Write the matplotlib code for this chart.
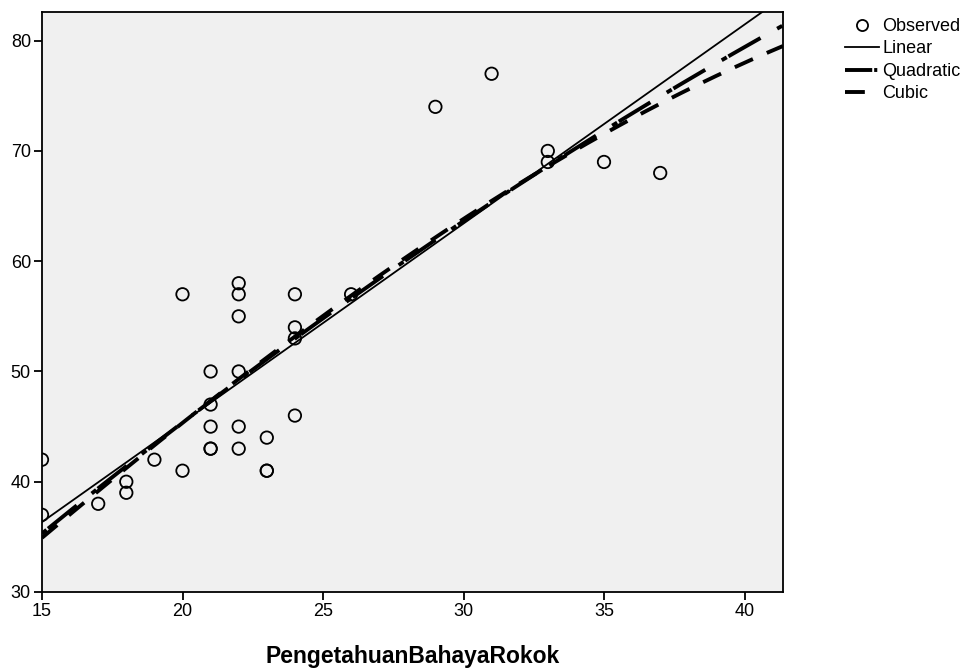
import numpy as np
import matplotlib
matplotlib.use("Agg")
import matplotlib.pyplot as plt
from matplotlib.lines import Line2D

plt.rcParams['font.family'] = ['Liberation Sans', 'DejaVu Sans']

# Observed points
pengetahuan = [15, 15, 17, 18, 18, 19, 20, 20, 21, 21, 21, 21, 21,
               22, 22, 22, 22, 22, 22, 23, 23, 23, 24, 24, 24, 24,
               26, 29, 31, 33, 33, 35, 37]
nilai = [42, 37, 38, 40, 39, 42, 57, 41, 50, 47, 45, 43, 43,
         58, 57, 55, 50, 45, 43, 44, 41, 41, 57, 54, 53, 46,
         57, 74, 77, 70, 69, 69, 68]

x_ticks = [15, 20, 25, 30, 35, 40]
y_ticks = [30, 40, 50, 60, 70, 80]

x = np.array(pengetahuan, dtype=float)
y = np.array(nilai, dtype=float)

fig = plt.figure(figsize=(9.69, 6.71), dpi=100)
ax = fig.add_axes([42 / 969, 79 / 671, 741 / 969, 580 / 671])
ax.set_facecolor('#f0f0f0')

ax.set_xlim(15, 41.37)
ax.set_ylim(30, 82.6)

xs = np.linspace(15, 41.37, 300)
lin = np.polyval(np.polyfit(x, y, 1), xs)
quad = np.polyval(np.polyfit(x, y, 2), xs)
# cubic: the x^2 term is dropped (tolerance), as SPSS does
A = np.column_stack([np.ones_like(x), x, x ** 3])
b = np.linalg.lstsq(A, y, rcond=None)[0]
cub = b[0] + b[1] * xs + b[2] * xs ** 3

q_dash = (1.5, 0.5, 9.5, 4.9)
c_dash = (5.1, 3.9)
ax.plot(xs, lin, color='black', lw=1.3)
ax.plot(xs, quad, color='black', lw=2.8, dashes=q_dash)
ax.plot(xs, cub, color='black', lw=2.8, dashes=c_dash)
ax.scatter(x, y, s=80, facecolors='none', edgecolors='black', linewidths=1.3,
           zorder=3)

ax.set_xticks(x_ticks)
ax.set_yticks(y_ticks)
ax.tick_params(direction='out', length=6, width=1.3, labelsize=13, pad=2)
for sp in ax.spines.values():
    sp.set_linewidth(1.3)

ax.set_xlabel('PengetahuanBahayaRokok', fontsize=16.5, fontweight='bold', labelpad=18)

handles = [
    Line2D([], [], ls='none', marker='o', mfc='none', mec='black', ms=8, mew=1.3),
    Line2D([], [], color='black', lw=1.3),
    Line2D([], [], color='black', lw=2.8, dashes=(7, 0.5, 0.8, 9)),
    Line2D([], [], color='black', lw=2.8, dashes=(5.1, 10)),
]
fig.legend(handles, ['Observed', 'Linear', 'Quadratic', 'Cubic'],
           loc='upper left', bbox_to_anchor=(845 / 969, 1 - 18 / 671),
           frameon=False, fontsize=13, handlelength=1.9, handletextpad=0.15,
           labelspacing=0.3, borderaxespad=0, borderpad=0)

fig.savefig('out.png', dpi=100)
